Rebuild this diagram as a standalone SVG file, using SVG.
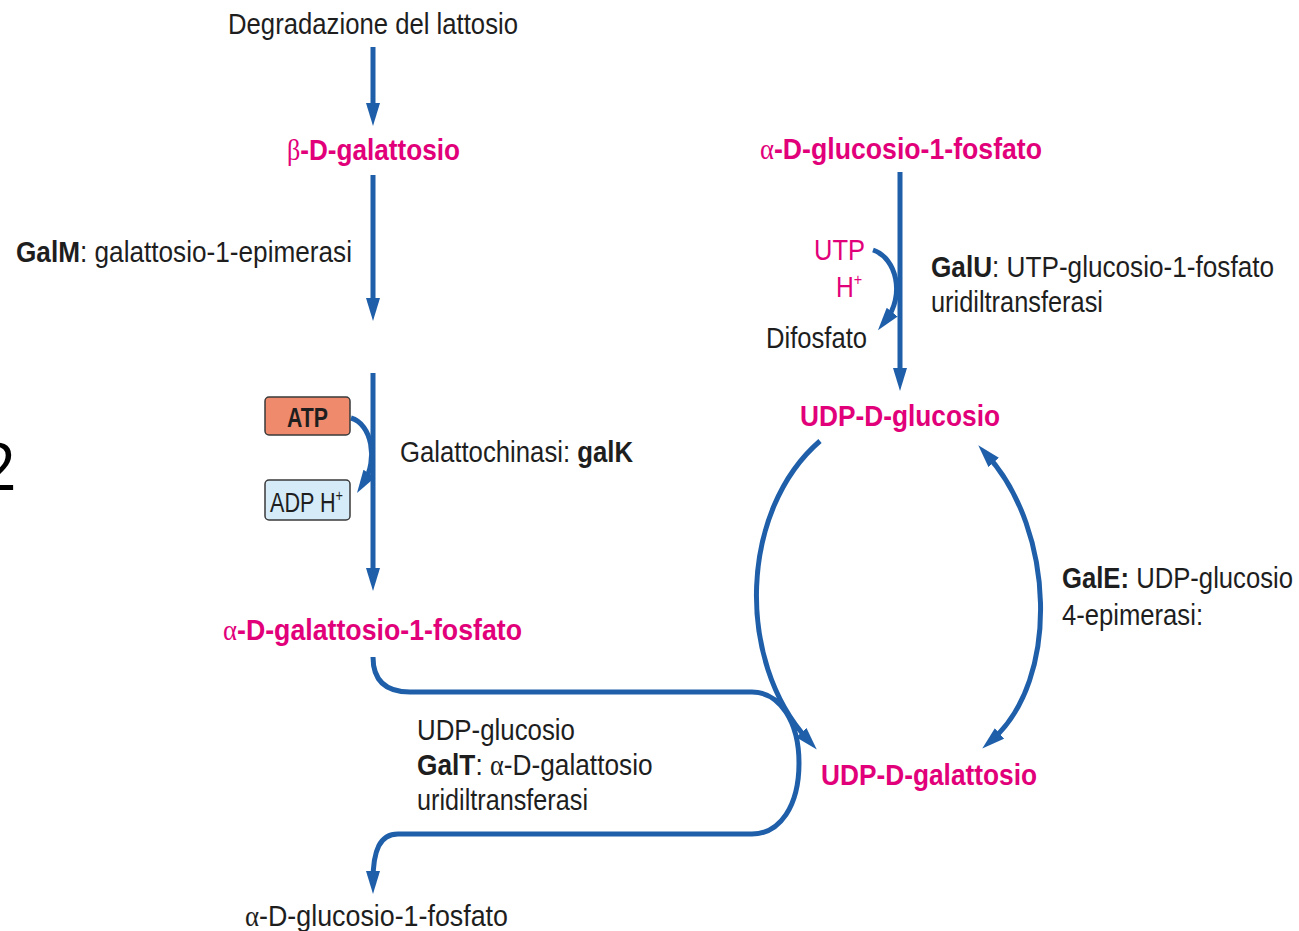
<svg xmlns="http://www.w3.org/2000/svg" width="1299" height="931" viewBox="0 0 1299 931">
<style>
text{font-family:"Liberation Sans",Arial,sans-serif;font-size:29px;fill:#1e1e1e}
.m{fill:#e2007a;font-weight:bold}
.mr{fill:#e2007a}
.b{font-weight:bold}
.c{fill:none;stroke:#1f5faa;stroke-width:5}
.sym{font-family:"Liberation Serif","DejaVu Serif",serif;font-weight:normal}
</style>
<defs>
<marker id="ah" markerUnits="userSpaceOnUse" markerWidth="24" markerHeight="16" refX="10" refY="7" orient="auto-start-reverse">
<path d="M0,0 L23,7 L0,14 z" fill="#1f5faa"/>
</marker>
</defs>
<rect width="1299" height="931" fill="#ffffff"/>
<text x="-21" y="490" style="font-size:66px;font-family:'Open Sans',sans-serif;fill:#000">2</text>
<g id="connectors">
<path class="c" d="M373,47 V113" marker-end="url(#ah)"/>
<path class="c" d="M373,175 V308" marker-end="url(#ah)"/>
<path class="c" d="M373,373 V578" marker-end="url(#ah)"/>
<path class="c" d="M351,418 C372,424 378,460 364,482" marker-end="url(#ah)"/>
<path class="c" d="M900,172 V378" marker-end="url(#ah)"/>
<path class="c" d="M873,250 C897,258 905,296 886,320" marker-end="url(#ah)"/>
<path class="c" d="M820,441 C740,510 735,660 808,740" marker-end="url(#ah)"/>
<path class="c" d="M987,455 C1055,530 1060,680 992,740" marker-start="url(#ah)" marker-end="url(#ah)"/>
<path class="c" d="M373,657 C373,680 385,692 410,692 L752,692 C780,692 799,722 799,763 C799,806 780,834 752,834 L398,834 C380,834 373,850 373,881" marker-end="url(#ah)"/>
</g>
<g id="n-degradazione"><text x="228" y="34" textLength="290" lengthAdjust="spacingAndGlyphs">Degradazione del lattosio</text></g>
<g id="n-beta-gal"><text class="m" x="287" y="160" textLength="173" lengthAdjust="spacingAndGlyphs"><tspan class="sym" style="fill:#e2007a">β</tspan>-D-galattosio</text></g>
<g id="l-galm"><text x="16" y="262" textLength="336" lengthAdjust="spacingAndGlyphs"><tspan class="b">GalM</tspan>: galattosio-1-epimerasi</text></g>
<g id="n-atp"><rect x="265" y="397" width="85" height="38" rx="4" fill="#ef8a6c" stroke="#3a3a3a" stroke-width="1.5"/><text class="b" x="287" y="427" textLength="41" lengthAdjust="spacingAndGlyphs" style="font-size:27px">ATP</text></g>
<g id="n-adp"><rect x="265" y="480" width="85" height="40" rx="4" fill="#d5ebf8" stroke="#3a3a3a" stroke-width="1.5"/><text transform="translate(270,512) scale(0.8,1)" style="font-size:27px">ADP H<tspan dy="-11" style="font-size:16px">+</tspan></text></g>
<g id="l-galk"><text transform="translate(400,462) scale(0.887,1)">Galattochinasi: <tspan class="b">galK</tspan></text></g>
<g id="n-alpha-gal1p"><text class="m" x="223" y="640" textLength="299" lengthAdjust="spacingAndGlyphs"><tspan class="sym" style="fill:#e2007a">α</tspan>-D-galattosio-1-fosfato</text></g>
<g id="n-alpha-glc1p-top"><text class="m" x="760" y="159" textLength="282" lengthAdjust="spacingAndGlyphs"><tspan class="sym" style="fill:#e2007a">α</tspan>-D-glucosio-1-fosfato</text></g>
<g id="l-utp"><text class="mr" x="814" y="260" textLength="51" lengthAdjust="spacingAndGlyphs">UTP</text><text class="mr" transform="translate(836,297) scale(0.85,1)">H<tspan dy="-12" style="font-size:17px">+</tspan></text></g>
<g id="l-difosfato"><text x="766" y="348" textLength="101" lengthAdjust="spacingAndGlyphs">Difosfato</text></g>
<g id="l-galu"><text transform="translate(931,277) scale(0.902,1)"><tspan class="b">GalU</tspan>: UTP-glucosio-1-fosfato</text><text transform="translate(931,312) scale(0.875,1)">uridiltransferasi</text></g>
<g id="n-udp-glc"><text class="m" x="800" y="426" textLength="200" lengthAdjust="spacingAndGlyphs">UDP-D-glucosio</text></g>
<g id="l-gale"><text transform="translate(1062,588) scale(0.885,1)"><tspan class="b">GalE:</tspan> UDP-glucosio</text><text x="1062" y="625" textLength="141" lengthAdjust="spacingAndGlyphs">4-epimerasi:</text></g>
<g id="n-udp-gal"><text class="m" x="821" y="785" textLength="216" lengthAdjust="spacingAndGlyphs">UDP-D-galattosio</text></g>
<g id="l-galt"><text x="417" y="740" textLength="158" lengthAdjust="spacingAndGlyphs">UDP-glucosio</text><text transform="translate(417,775) scale(0.906,1)"><tspan class="b">GalT</tspan>: <tspan class="sym">α</tspan>-D-galattosio</text><text x="417" y="810" textLength="171" lengthAdjust="spacingAndGlyphs">uridiltransferasi</text></g>
<g id="n-alpha-glc1p-bottom"><text x="245" y="926" textLength="263" lengthAdjust="spacingAndGlyphs"><tspan class="sym">α</tspan>-D-glucosio-1-fosfato</text></g>
</svg>
